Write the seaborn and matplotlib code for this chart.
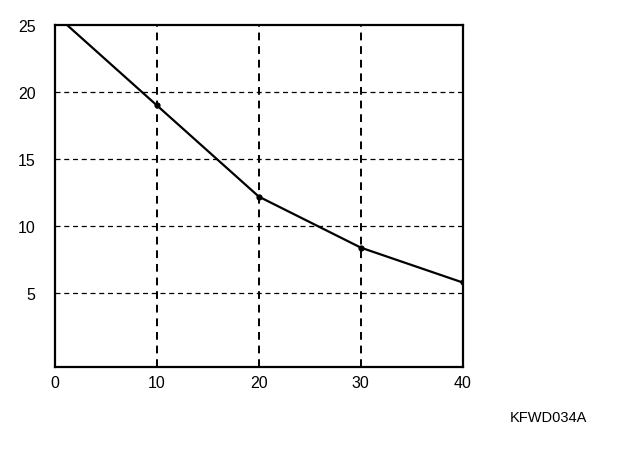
import matplotlib
matplotlib.use("Agg")
import matplotlib.pyplot as plt
import seaborn as sns
import pandas as pd

# datos
x_vals = [0, 10, 20, 30, 40]
y_vals = [25.8, 19.0, 12.2, 8.4, 5.8]
x_ticks = [0, 10, 20, 30, 40]
y_ticks = [5, 10, 15, 20, 25]
codigo = "KFWD034A"

df = pd.DataFrame({"x": x_vals, "y": y_vals})

sns.set_style("white")
plt.rcParams['font.family'] = ['Liberation Sans', 'DejaVu Sans']

fig = plt.figure(figsize=(6.4, 4.56), dpi=100)
ax = fig.add_axes([0.086, 0.193, 0.637, 0.75])

sns.lineplot(data=df, x="x", y="y", color="black", linewidth=1.6,
             marker="o", markersize=4.5, markeredgewidth=0, ax=ax, zorder=5)

ax.set_xlim(0, 40)
ax.set_ylim(-0.5, 25)
ax.set_xticks(x_ticks)
ax.set_yticks(y_ticks)
ax.set_xlabel("")
ax.set_ylabel("")
ax.tick_params(axis="y", length=0, labelsize=11.5, pad=14, labelcolor="black")
ax.tick_params(axis="x", length=0, labelsize=11.5, pad=6, labelcolor="black")

# rejilla punteada
for xv in x_ticks[1:-1]:
    ax.axvline(xv, color="black", linestyle=(0, (4, 3)), linewidth=1.4, zorder=0)
for yv in y_ticks[:-1]:
    ax.axhline(yv, color="black", linestyle=(0, (4, 3)), linewidth=0.9, zorder=0)

for s in ax.spines.values():
    s.set_color("black")
    s.set_linewidth(1.6)

fig.text(0.857, 0.083, codigo, fontsize=10.5, ha="center", va="center", color="black")

fig.savefig("out.png", dpi=100)
